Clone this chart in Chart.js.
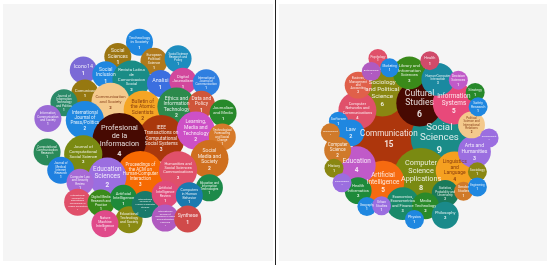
<!DOCTYPE html>
<html>
<head>
<meta charset="utf-8">
<script src="https://cdn.jsdelivr.net/npm/chart.js@4"></script>
<style>
  html, body { margin: 0; padding: 0; background: #fff; }
  #wrap { position: relative; width: 550px; height: 265px; background: #fff; overflow: hidden; }
  .bg { position: absolute; top: 4px; height: 257px; background: #f5f5f5; }
  .box { position: absolute; top: 0; height: 265px; }
  #divider { position: absolute; left: 275px; top: 0; width: 1px; height: 265px; background: #222; }
</style>
</head>
<body>
<div id="wrap">
  <div class="bg" style="left:3px;width:270px"></div>
  <div class="bg" style="left:279px;width:268px"></div>
  <div class="box" style="left:0;width:275px"><canvas id="left-chart"></canvas></div>
  <div id="divider"></div>
  <div class="box" style="left:276px;width:274px"><canvas id="right-chart"></canvas></div>
</div>
<script>
// left panel: journals
const journalNames = [
  'Technology in Society', 'Social Sciences', 'European Political Science', 'Social Science Research and Policy',
  'Icono14', 'Social Inclusion', 'Revista Latina de Comunicacion Social', 'Analisi',
  'Digital Journalism', 'International Journal of Communication', 'Comunicar', 'Communication and Society',
  'Journal of Information Technology and Politics', 'Bulletin of the Atomic Scientists', 'Ethics and Information Technology', 'Data and Policy',
  'Journalism and Media', 'Information, Communication and Society', 'International Journal of Press/Politics', 'IEEE Transactions on Computational Social Systems',
  'Profesional de la Informacion', 'Learning, Media and Technology', 'Technological Forecasting and Social Change', 'Social Media and Society',
  'Proceedings of the ACM on Human-Computer Interaction', 'Humanities and Social Sciences Communications', 'Education and Information Technologies', 'Journal of Computational Social Science',
  'Education Sciences', 'Computational Communication Research', 'Journal of Medical Internet Research', 'Computer Law and Security Review',
  'International Journal for Educational Technology in Higher Education', 'Digital Media Research and Practice', 'Artificial Intelligence', 'Educational Technology and Society',
  'Nature Machine Intelligence', 'International Journal of Human-Computer Studies', 'Artificial Intelligence Review', 'Computers in Human Behavior',
  'International Review of Research in Open and Distributed Learning', 'Synthese'
];
const journalCounts = [1, 1, 1, 1, 1, 1, 2, 1, 1, 1, 1, 2, 1, 2, 2, 1, 1, 1, 2, 3, 4, 2, 1, 2, 3, 2, 1, 2, 2, 1, 1, 1, 1, 1, 1, 1, 1, 1, 1, 1, 1, 1];
const journalX = [140, 113, 158, 188, 70, 98, 130, 166, 194, 223, 72, 104, 46, 144, 186, 217, 244, 26, 72, 167, 115, 210, 243, 227, 141, 188, 227, 70, 100, 25, 42, 66, 63, 92, 120, 127, 97, 147, 172, 202, 172, 200];
const journalY = [19, 37, 43, 40, 54, 60, 66, 71, 68, 70, 83, 94, 95, 104, 100, 97, 108, 115, 117, 140, 142, 130, 138, 166, 185, 180, 202, 160, 188, 157, 180, 195, 220, 221, 215, 242, 247, 223, 210, 212, 240, 241];

// right panel: subject areas
const areaNames = [
  'Communication', 'Social Sciences', 'Computer Science Applications', 'Sociology and Political Science',
  'Cultural Studies', 'Information Systems', 'Artificial Intelligence', 'Library and Information Sciences',
  'Education', 'Linguistics and Language', 'Computer Networks and Communications', 'Law',
  'Human-Computer Interaction', 'Economics, Econometrics and Finance', 'Arts and Humanities', 'Political Science and International Relations',
  'Computer Science', 'Business, Management and Accounting', 'Health Informatics', 'Statistics, Probability and Uncertainty',
  'Media Technology', 'Philosophy', 'Gender Studies',
  'Psychology', 'Marketing', 'Anthropology', 'Software', 'Management', 'History', 'Demography', 'Geography',
  'Urban Studies', 'Health', 'Decision Sciences', 'Strategy', 'Safety Research', 'Development', 'Sociology', 'Engineering', 'Physics'
];
const areaCounts = [15, 9, 8, 6, 6, 5, 5, 3, 4, 4, 4, 2, 3, 3, 3, 2, 2, 2, 2, 2, 2, 2, 1,
  1, 1, 1, 1, 1, 1, 1, 1, 1, 1, 1, 1, 1, 1, 1, 1, 1];
const areaX = [380, 449, 424, 371, 422, 469, 372, 408, 336, 470, 337, 328, 447, 399, 497, 493, 310, 338, 338, 457, 430, 457, 482,
  365, 381, 356, 311, 300, 305, 316, 350, 370, 436, 475, 498, 502, 517, 501, 501, 415];
const areaY = [141, 140, 191, 78, 92, 92, 201, 50, 178, 185, 102, 133, 59, 231, 159, 122, 157, 67, 213, 217, 234, 247, 214,
  30, 43, 48, 117, 133, 182, 202, 235, 234, 33, 60, 77, 97, 140, 187, 208, 253];

const leftColors = [
  '#1f87e0', '#9c7612', '#b07a1c', '#1d8dbf', '#7b6ad6', '#1f87e0', '#1a8c86', '#3b6fe0',
  '#d2479c', '#2f7fe0', '#967810', '#f4c98c', '#2a8a68', '#f5a524', '#2c8a4c', '#cf563a',
  '#27892a', '#9b6bd6', '#1f87e0', '#a9380c', '#470a02', '#cd50c6', '#d77a2a', '#cf6f1e',
  '#f66a02', '#e0506a', '#1d8a4a', '#7a8a12', '#9b6ee0', '#2a8a5a', '#1f80e0', '#a76ad6',
  '#e0506a', '#3a8a1a', '#1e8a3a', '#8a8a12', '#e04a8a', '#1a7a6a', '#e04a7a', '#1a7ab0',
  '#b05ac0', '#d04a4a'
];
const rightColors = [
  '#ad360c', '#1a8c88', '#7a8a12', '#8a8712', '#470a02', '#e8497a', '#f66a10', '#3a8a1a',
  '#c05ac8', '#f5a020', '#e0506a', '#1f87e0', '#1a89a0', '#1a8a6a', '#9b6ee0', '#f4c98c',
  '#d07a2a', '#e0604a', '#1e8a3a', '#1a7a5a', '#2a8a2a', '#1a8a8a', '#d07a2a',
  '#e0506a', '#1f87e0', '#b05ac0', '#1f87e0', '#d07a2a', '#8a8712', '#9b6ee0', '#1f87e0',
  '#9b6ee0', '#d04a6a', '#c05ac8', '#27892a', '#1f87e0', '#9b6ee0', '#8a8712', '#1f87e0', '#1f87e0'
];

function isLight(hex){
  const r = parseInt(hex.substr(1,2),16), g = parseInt(hex.substr(3,2),16), b = parseInt(hex.substr(5,2),16);
  return (0.299*r + 0.587*g + 0.114*b) > 170;
}

function wrapText(ctx, text, maxW){
  const words = text.split(' ');
  let lines = [], cur = '';
  for (const w of words) {
    const test = cur ? cur + ' ' + w : w;
    if (ctx.measureText(test).width > maxW && cur) { lines.push(cur); cur = w; }
    else cur = test;
  }
  if (cur) lines.push(cur);
  return lines;
}

// names + count inside each bubble, shrunk until the block fits
const bubbleLabels = {
  id: 'bubbleLabels',
  afterDatasetsDraw(chart){
    const ctx = chart.ctx;
    const ds = chart.data.datasets[0];
    chart.getDatasetMeta(0).data.forEach((el, i) => {
      const d = ds.data[i];
      const r = el.options.radius;
      let fs = Math.min(r * 0.4, 4 + r * 0.2), lines, lh;
      ctx.save();
      for (let k = 0; k < 20; k++) {
        ctx.font = fs + 'px Roboto';
        lines = wrapText(ctx, d.name, r * 1.5);
        lh = fs * 1.1;
        const widest = Math.max(...lines.map(l => ctx.measureText(l).width));
        if ((lines.length + 1) * lh <= r * 1.25 && widest <= r * 1.6) break;
        fs *= 0.92;
      }
      ctx.textAlign = 'center';
      ctx.textBaseline = 'middle';
      ctx.fillStyle = isLight(ds.backgroundColor[i]) ? 'rgba(120,45,10,0.85)' : 'rgba(255,255,255,0.85)';
      const total = (lines.length + 1) * lh;
      let y = el.y - total / 2 + lh / 2;
      for (const l of lines) { ctx.fillText(l, el.x, y); y += lh; }
      ctx.font = 'bold ' + fs + 'px Roboto';
      ctx.fillText(String(d.count), el.x, y + lh * 0.2);
      ctx.restore();
    });
  }
};

function drawBubbles(canvasId, names, counts, xs, ys, colors, unit, xMin, xMax){
  const points = names.map((n, i) => ({ x: xs[i], y: ys[i], r: unit * Math.sqrt(counts[i]), name: n, count: counts[i] }));
  return new Chart(document.getElementById(canvasId), {
    type: 'bubble',
    data: {
      datasets: [{
        data: points,
        backgroundColor: colors,
        borderWidth: 0,
        hoverRadius: 0,
        clip: false
      }]
    },
    plugins: [bubbleLabels],
    options: {
      responsive: true,
      maintainAspectRatio: false,
      animation: false,
      events: [],
      layout: { padding: 0 },
      plugins: { legend: { display: false }, tooltip: { enabled: false } },
      scales: {
        x: { type: 'linear', min: xMin, max: xMax, display: false },
        y: { type: 'linear', min: 0, max: 265, reverse: true, display: false }
      }
    }
  });
}

drawBubbles('left-chart', journalNames, journalCounts, journalX, journalY, leftColors, 13.5, 0, 275);
drawBubbles('right-chart', areaNames, areaCounts, areaX, areaY, rightColors, 9.5, 276, 550);
</script>
</body>
</html>
